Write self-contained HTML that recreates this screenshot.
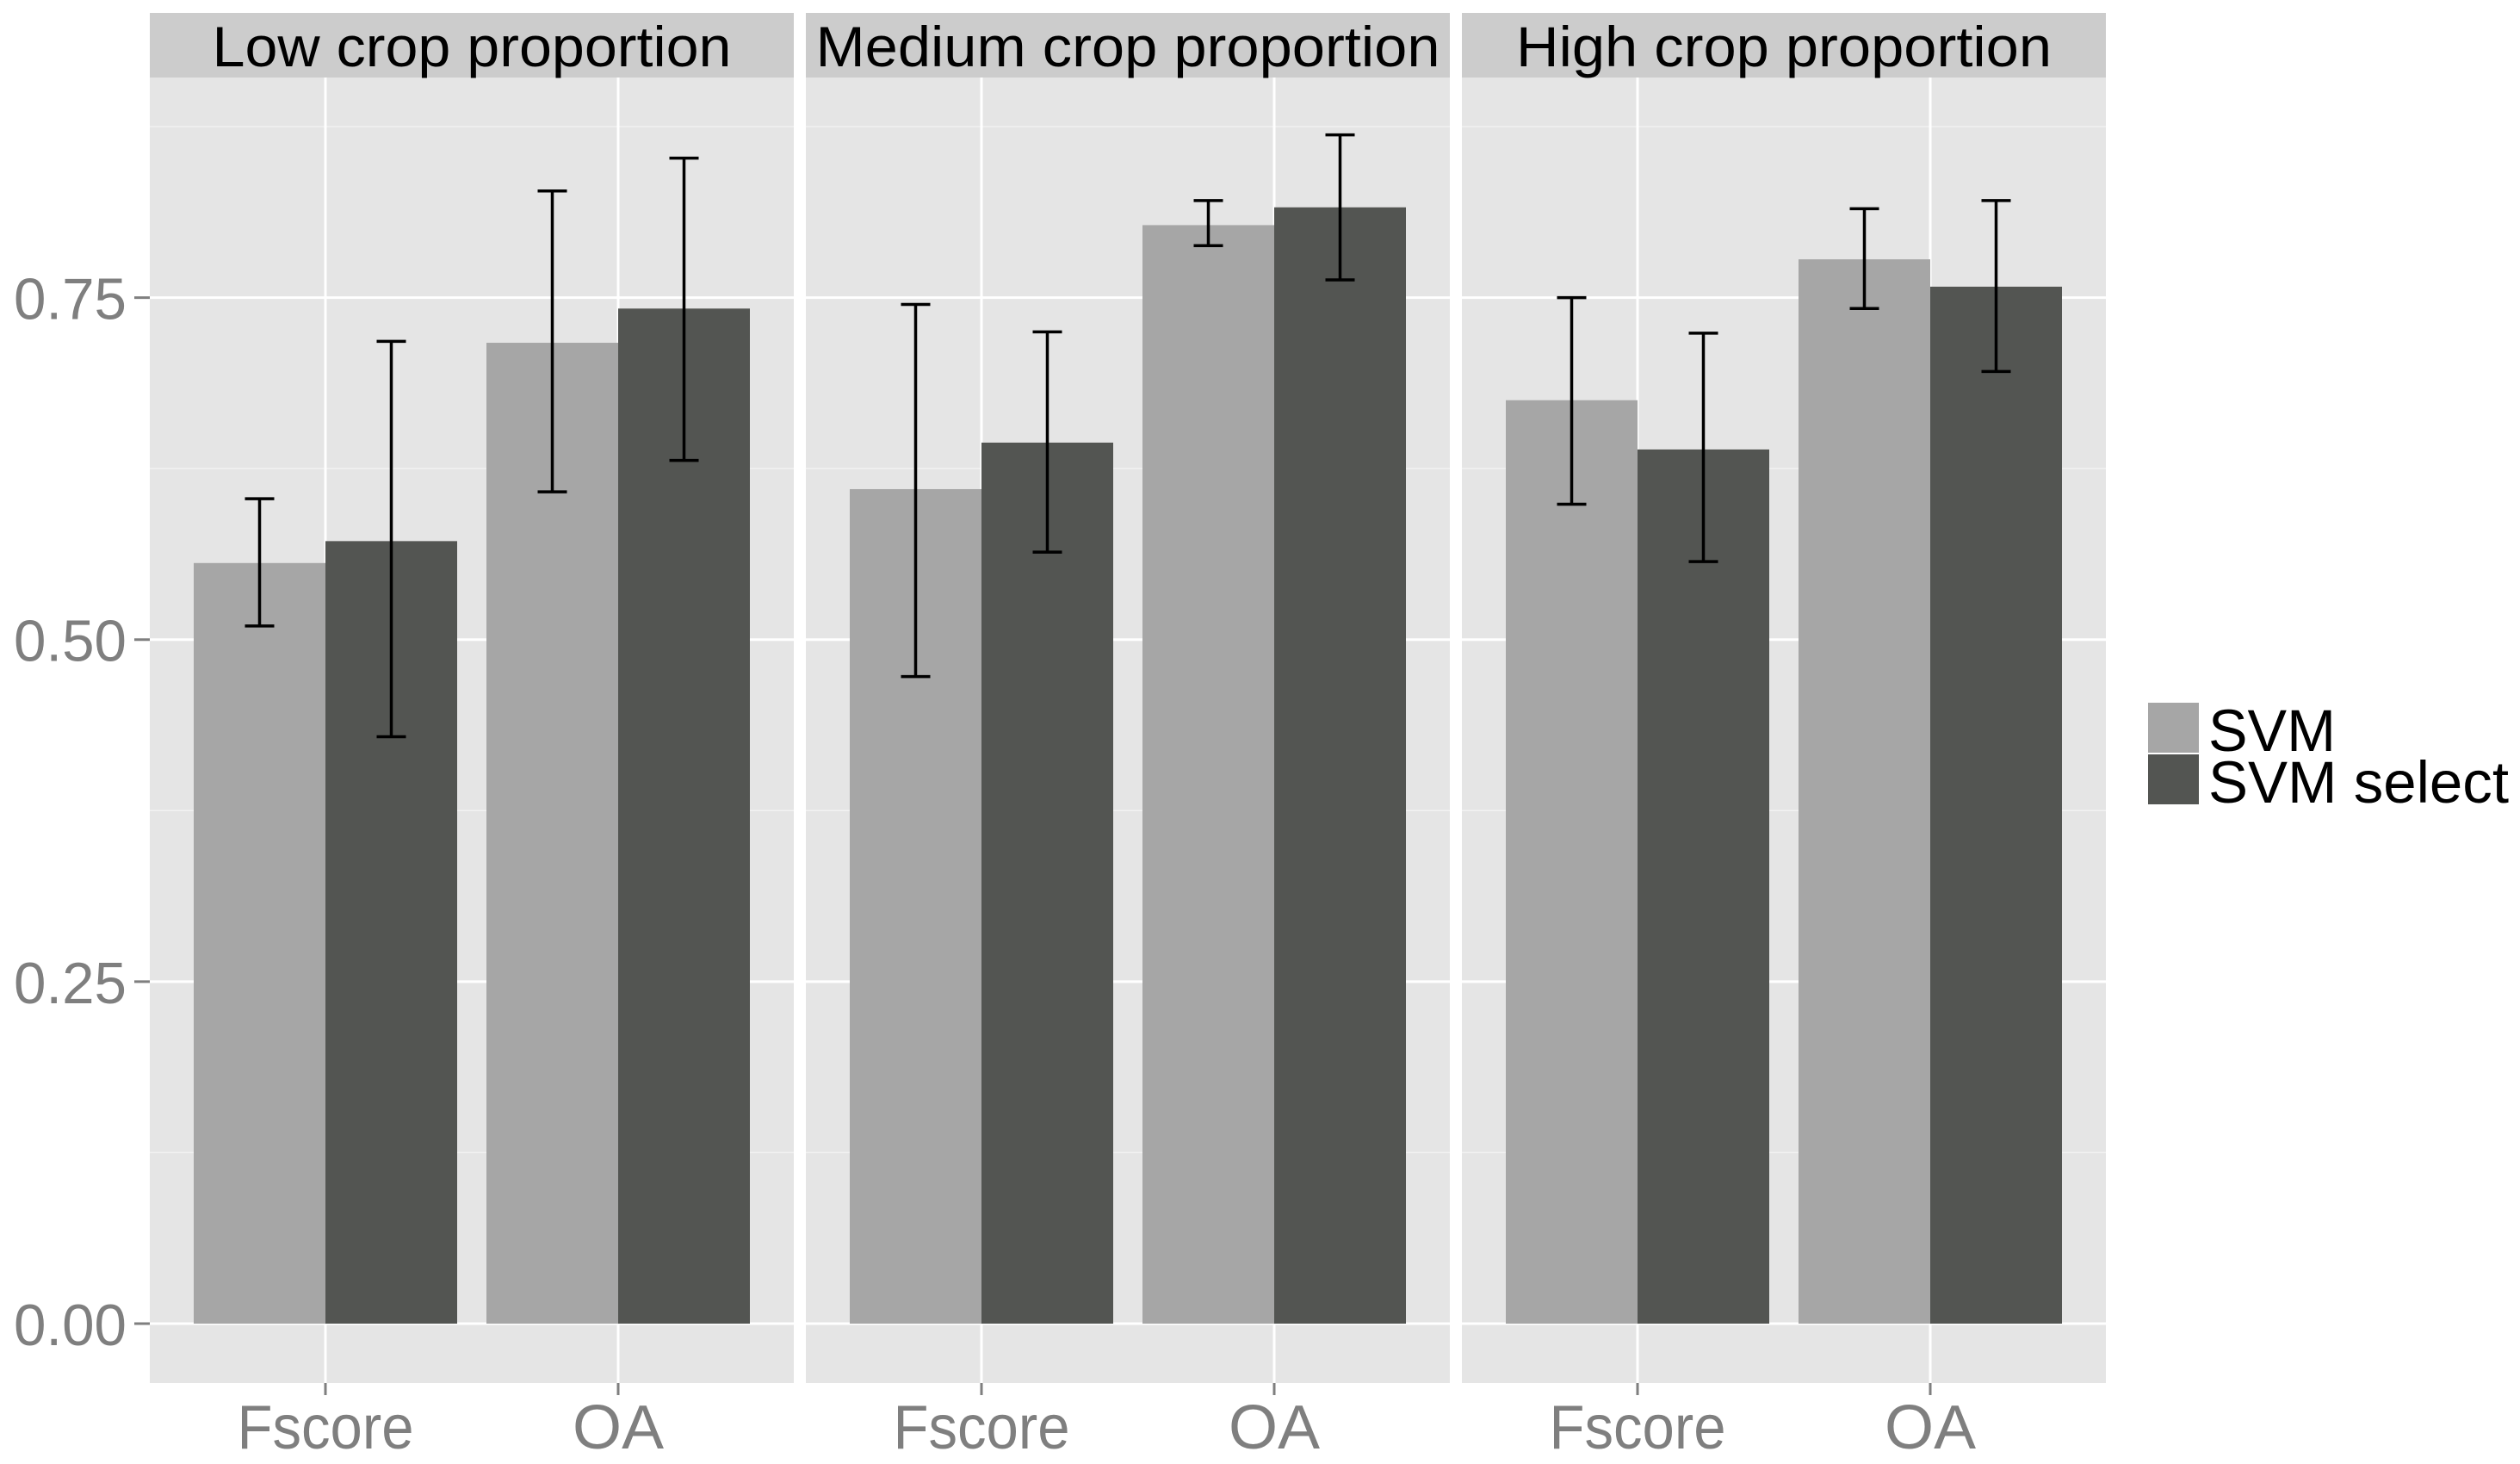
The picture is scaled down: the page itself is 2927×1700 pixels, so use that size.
<!DOCTYPE html>
<html><head><meta charset="utf-8"><style>html,body{margin:0;padding:0;background:#fff}svg{display:block}text{font-family:"Liberation Sans",sans-serif}</style></head>
<body>
<svg id="chart" width="2927" height="1700" viewBox="0 0 2927 1700" xmlns="http://www.w3.org/2000/svg"></svg>
<script>
const panels = ["Low crop proportion","Medium crop proportion","High crop proportion"];
const panelTitleWidths = [603,725,622];
const categories = ["Fscore","OA"];
const seriesNames = ["SVM","SVM select"];
const svmValues = [[0.556,0.717],[0.610,0.803],[0.675,0.778]];
const svmLower = [[0.510,0.608],[0.473,0.788],[0.599,0.742]];
const svmUpper = [[0.603,0.828],[0.745,0.821],[0.750,0.815]];
const selValues = [[0.572,0.742],[0.644,0.816],[0.639,0.758]];
const selLower = [[0.429,0.631],[0.564,0.763],[0.557,0.696]];
const selUpper = [[0.718,0.852],[0.725,0.869],[0.724,0.821]];
const yTicks = [0,0.25,0.5,0.75];
const yTickLabels = ["0.00","0.25","0.50","0.75"];

const NS="http://www.w3.org/2000/svg";
const svg=document.getElementById('chart');
function mk(tag,attrs,parent){const e=document.createElementNS(NS,tag);for(const k in attrs)e.setAttribute(k,attrs[k]);(parent||svg).appendChild(e);return e;}
const panelX=[174,936,1698], panelW=748, pTop=90, pBot=1606, stripTop=15;
const y0=1537, pxPerUnit=(1537-345.6)/0.75;
function yScale(v){return y0-v*pxPerUnit;}
const unit=340;
function xCat(p,i){return panelX[p]+unit*(0.6+i);}
const colors=["#a6a6a6","#535552"];

// y axis
for(let t=0;t<yTicks.length;t++){
  const y=yScale(yTicks[t]);
  const tk=mk('line',{x1:156,x2:174,y1:y,y2:y,stroke:'#7f7f7f','stroke-width':3});
  
  
  const tx=mk('text',{x:147,y:y+25,'text-anchor':'end','font-size':68,fill:'#7f7f7f',textLength:131,lengthAdjust:'spacingAndGlyphs'});
  tx.textContent=yTickLabels[t];
  
  
}

for(let p=0;p<panels.length;p++){
  const g=mk('g',{});
  
  
  const bg=mk('rect',{x:panelX[p],y:pTop,width:panelW,height:pBot-pTop,fill:'#e5e5e5'},g);
  
  
  // minor grid
  for(let v=0.125;v<0.9;v+=0.25){
    const y=yScale(v);
    const l=mk('line',{x1:panelX[p],x2:panelX[p]+panelW,y1:y,y2:y,stroke:'#f2f2f2','stroke-width':1.5},g);
    
    
  }
  for(const v of yTicks){
    const y=yScale(v);
    const l=mk('line',{x1:panelX[p],x2:panelX[p]+panelW,y1:y,y2:y,stroke:'#ffffff','stroke-width':3},g);
    
    
  }
  for(let i=0;i<categories.length;i++){
    const x=xCat(p,i);
    const l=mk('line',{x1:x,x2:x,y1:pTop,y2:pBot,stroke:'#ffffff','stroke-width':3},g);
    
    
  }
  // strip
  const st=mk('rect',{x:panelX[p],y:stripTop,width:panelW,height:pTop-stripTop,fill:'#cccccc'},g);
  
  
  const stt=mk('text',{x:panelX[p]+panelW/2,y:77,'text-anchor':'middle','font-size':66,fill:'#000',textLength:panelTitleWidths[p],lengthAdjust:'spacingAndGlyphs'},g);
  stt.textContent=panels[p];
  
  
  // bars
  for(let i=0;i<categories.length;i++){
    const cx=xCat(p,i);
    const sets=[[svmValues,svmLower,svmUpper],[selValues,selLower,selUpper]];
    for(let s=0;s<2;s++){
      const v=sets[s][0][p][i];
      const bx=cx-0.45*unit+s*0.45*unit;
      const r=mk('rect',{x:bx,y:yScale(v),width:0.45*unit,height:y0-yScale(v),fill:colors[s]},g);
      
      
    }
    for(let s=0;s<2;s++){
      const ex=cx-0.225*unit+s*0.45*unit;
      const lo=yScale(sets[s][1][p][i]), hi=yScale(sets[s][2][p][i]);
      const eg=mk('g',{stroke:'#000','stroke-width':3.5},g);
      
      
      mk('line',{x1:ex,x2:ex,y1:hi,y2:lo},eg);
      mk('line',{x1:ex-17,x2:ex+17,y1:hi,y2:hi},eg);
      mk('line',{x1:ex-17,x2:ex+17,y1:lo,y2:lo},eg);
    }
    const tk=mk('line',{x1:cx,x2:cx,y1:pBot,y2:pBot+14,stroke:'#7f7f7f','stroke-width':3});
    
    
    const xl=mk('text',{x:cx,y:1682,'text-anchor':'middle','font-size':72,fill:'#7f7f7f',textLength:i?106:205,lengthAdjust:'spacingAndGlyphs'});
    xl.textContent=categories[i];
    
    
  }
}
// legend
const lg=mk('g',{});


const legY=[816,876], legBase=[872,932], legW=[148,349];
for(let s=0;s<seriesNames.length;s++){
  const k=mk('rect',{x:2495,y:legY[s],width:59,height:58,fill:colors[s]},lg);
  
  
  const t=mk('text',{x:2565,y:legBase[s],'font-size':69,fill:'#000',textLength:legW[s],lengthAdjust:'spacingAndGlyphs'},lg);
  t.textContent=seriesNames[s];
  
  
}
</script>
</body></html>
